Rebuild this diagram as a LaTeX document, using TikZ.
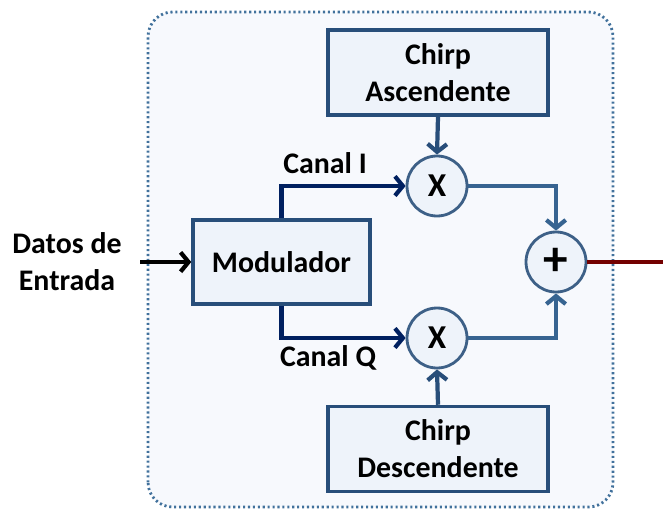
\documentclass[tikz,border=0pt]{standalone}
\usepackage{fontspec}
\setmainfont{Carlito}
\definecolor{boxblue}{RGB}{40, 78, 122}
\definecolor{boxfill}{RGB}{238, 243, 250}
\definecolor{bgfill}{RGB}{247, 249, 253}
\definecolor{dotblue}{RGB}{65, 113, 156}
\definecolor{chanblue}{RGB}{0, 32, 96}
\definecolor{sumblue}{RGB}{55, 100, 145}
\definecolor{outred}{RGB}{115, 0, 0}
\usetikzlibrary{arrows.meta, positioning, calc}

\begin{document}
\begin{tikzpicture}[
    font=\fontsize{17}{21}\selectfont\bfseries,
    block/.style={draw=boxblue, fill=boxfill, line width=2pt, minimum width=4.4cm, minimum height=1.7cm, align=center, inner sep=0pt},
    mixer/.style={circle, draw=boxblue!90, fill=boxfill, line width=1.6pt, minimum size=1.2cm, inner sep=0pt, font=\fontsize{19}{21}\selectfont\bfseries},
    arr/.style={line width=2.4pt, -{Straight Barb[length=4.5pt, width=11pt]}},
  ]
  \useasboundingbox (0, 0) rectangle (13.26, 10.18);

  % Background
  \draw[dotblue, fill=bgfill, line width=1.6pt, dash pattern=on 1.2pt off 1.6pt, rounded corners=14pt] (2.96, 0.04) rectangle (12.26, 9.94);

  % Chirps
  \node[block] (chirpup) at (8.76, 8.73) {Chirp\\Ascendente};
  \node[block] (chirpdown) at (8.76, 1.20) {Chirp\\Descendente};

  % Modulator
  \node[block, minimum width=3.54cm, minimum height=1.68cm] (mod) at (5.63, 4.94) {Modulador};
  \node[align=center] (datos) at (1.34, 4.94) {Datos de\\Entrada};
  \coordinate (in) at (2.80, 4.94);

  % Mixers and sum
  \node[mixer] (mixI) at (8.74, 6.46) {X};
  \node[mixer] (mixQ) at (8.74, 3.42) {X};
  \node[mixer, font=\fontsize{28}{28}\selectfont\bfseries] (sum) at (11.12, 4.94) {+};
  \coordinate (out) at (13.26, 4.94);

  % Channel labels
  \node (lblI) at (6.50, 6.92) {Canal I};
  \node (lblQ) at (6.56, 3.02) {Canal Q};

  % Connections
  \draw[arr, black] (in) -- (mod.west);
  \draw[arr, chanblue] (mod.north) |- (mixI.west);
  \draw[arr, chanblue] (mod.south) |- (mixQ.west);
  \draw[arr, boxblue] (chirpup.south) -- (mixI.north);
  \draw[arr, boxblue] (chirpdown.north) -- (mixQ.south);
  \draw[arr, sumblue] (mixI.east) -| (sum.north);
  \draw[arr, sumblue] (mixQ.east) -| (sum.south);
  \draw[outred, line width=2.6pt] (sum.east) -- (out);
\end{tikzpicture}
\end{document}
